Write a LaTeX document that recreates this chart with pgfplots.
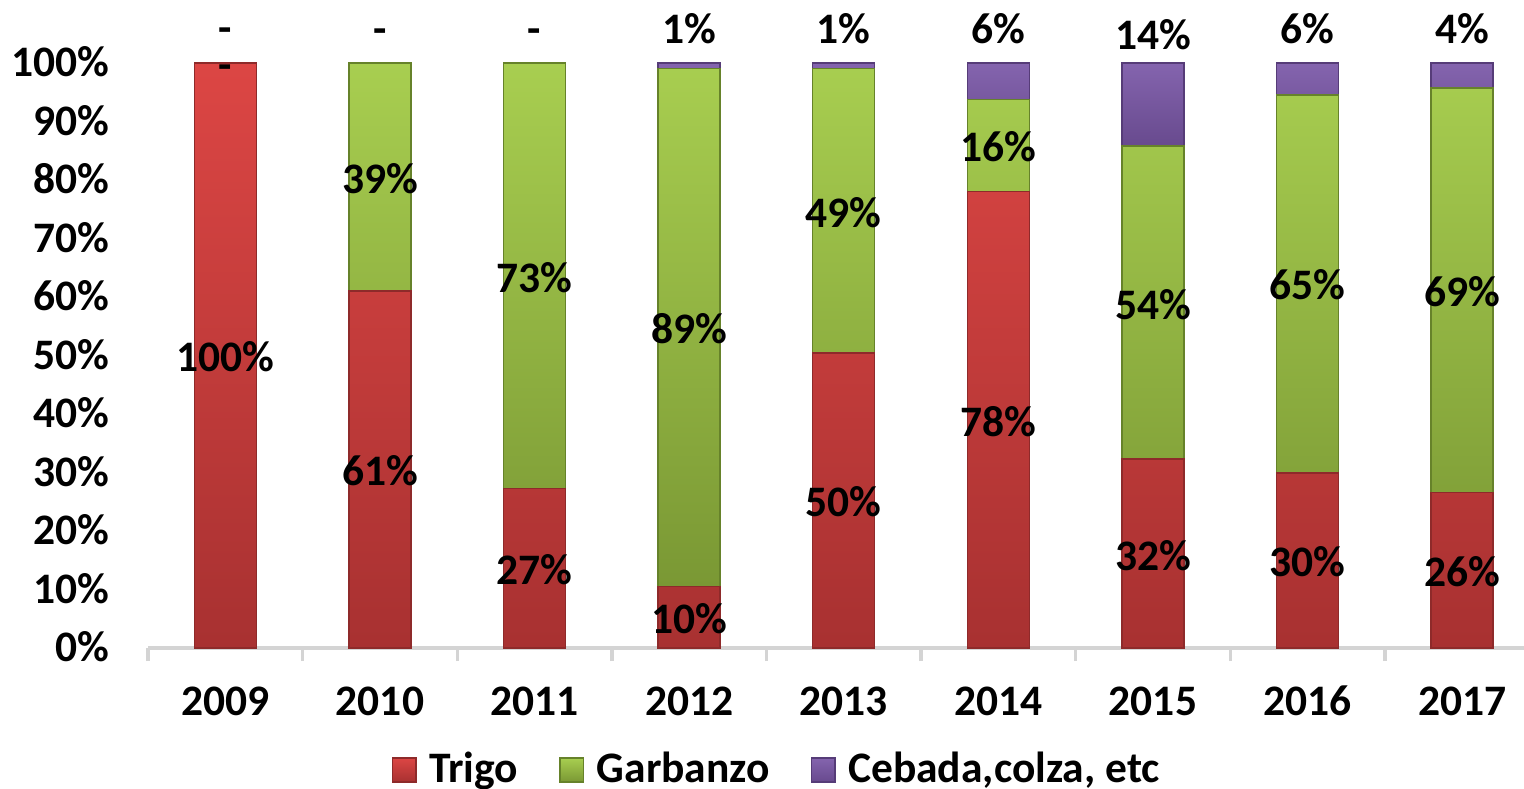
\documentclass[border=0pt]{standalone}
\usepackage{fontspec}
\setmainfont{Carlito}
\usepackage{pgfplots}
\pgfplotsset{compat=1.18}
\definecolor{trT}{HTML}{DC4644}
\definecolor{trB}{HTML}{A83131}
\definecolor{trD}{HTML}{8E2A2A}
\definecolor{gaT}{HTML}{A8CE50}
\definecolor{gaB}{HTML}{7A9834}
\definecolor{gaD}{HTML}{66822A}
\definecolor{ceT}{HTML}{8464AE}
\definecolor{ceB}{HTML}{684A8E}
\definecolor{ceD}{HTML}{563C78}
\definecolor{axgray}{HTML}{D4D4D4}
\newcommand\lbl{\fontsize{13}{15}\selectfont\bfseries}

\pgfplotstableread{
x y
0 100
1 61
2 27.3
3 10.5
4 50.4
5 78
6 32.3
7 29.9
8 26.6
}\trigo
\pgfplotstableread{
x y
0 0
1 39
2 72.7
3 88.6
4 48.7
5 15.8
6 53.5
7 64.6
8 69.1
}\garbanzo
\pgfplotstableread{
x y
0 0
1 0
2 0
3 0.9
4 0.9
5 6.2
6 14.2
7 5.5
8 4.3
}\cebada

\begin{document}
\begin{tikzpicture}
\begin{axis}[
  scale only axis,
  width=14.446cm, height=6.142cm,
  xmin=-0.5, xmax=8.4, ymin=0, ymax=100,
  ybar stacked, bar width=0.651cm,
  axis lines*=left,
  y axis line style={draw=none},
  x axis line style={draw=axgray, line width=1pt},
  xtick={0,...,8},
  xticklabels={2009,2010,2011,2012,2013,2014,2015,2016,2017},
  minor xtick={-0.5,0.5,...,7.5},
  major tick length=0pt,
  minor tick length=0.137cm,
  tick align=outside,
  minor tick style={draw=axgray, line width=1pt},
  ytick={0,10,...,100},
  yticklabels={0\%,10\%,20\%,30\%,40\%,50\%,60\%,70\%,80\%,90\%,100\%},
  /pgf/number format/assume math mode=true,
  ticklabel style={font=\lbl},
  xticklabel style={yshift=-0.355cm, text height=0.64em, text depth=0pt},
  yticklabel style={xshift=-0.28cm, yshift=-0.03cm, text height=0.64em, text depth=0pt},
  legend style={draw=none, font=\lbl, at={(0.4586,-0.2085)}, anchor=center,
    legend columns=-1,
    /tikz/every odd column/.append style={column sep=0.06cm},
    /tikz/every even column/.append style={column sep=0.36cm}},
  legend image code/.code={\fill[#1] (0cm,-0.125cm) rectangle (0.25cm,0.125cm);},
  clip=false,
]
\addplot[top color=trT, bottom color=trB, draw=trD, line width=0.4pt] table {\trigo};
\addlegendentry{Trigo}
\addplot[top color=gaT, bottom color=gaB, draw=gaD, line width=0.4pt] table {\garbanzo};
\addlegendentry{Garbanzo}
\addplot[top color=ceT, bottom color=ceB, draw=ceD, line width=0.4pt] table {\cebada};
\addlegendentry{Cebada,colza, etc}
\end{axis}
\begin{axis}[
  scale only axis,
  width=14.446cm, height=6.142cm,
  xmin=-0.5, xmax=8.4, ymin=0, ymax=100,
  hide axis, clip=false,
]
\addplot[only marks, mark=*, mark size=0pt, mark options={draw=none, fill=none},
  nodes near coords, point meta=explicit symbolic,
  every node near coord/.style={anchor=center, font=\lbl, text=black,
    text height=0.64em, text depth=0pt, inner sep=0pt, yshift=-0.06cm}]
  table[meta=label] {
x y label
0 50 100\%
0 99.9 -
0 106.3 -
1 30.5 61\%
1 80.5 39\%
1 106.1 -
2 13.6 27\%
2 63.6 73\%
2 106.1 -
3 5.2 10\%
3 54.8 89\%
3 106.1 1\%
4 25.2 50\%
4 74.7 49\%
4 106.1 1\%
5 39 78\%
5 85.9 16\%
5 106.1 6\%
6 16.1 32\%
6 59 54\%
6 105.1 14\%
7 15 30\%
7 62.3 65\%
7 106.1 6\%
8 13.3 26\%
8 61.2 69\%
8 106.1 4\%
};
\end{axis}
\pgfresetboundingbox
\path (-1.554cm,-1.480cm) rectangle (14.446cm,6.803cm);
\end{tikzpicture}
\end{document}
